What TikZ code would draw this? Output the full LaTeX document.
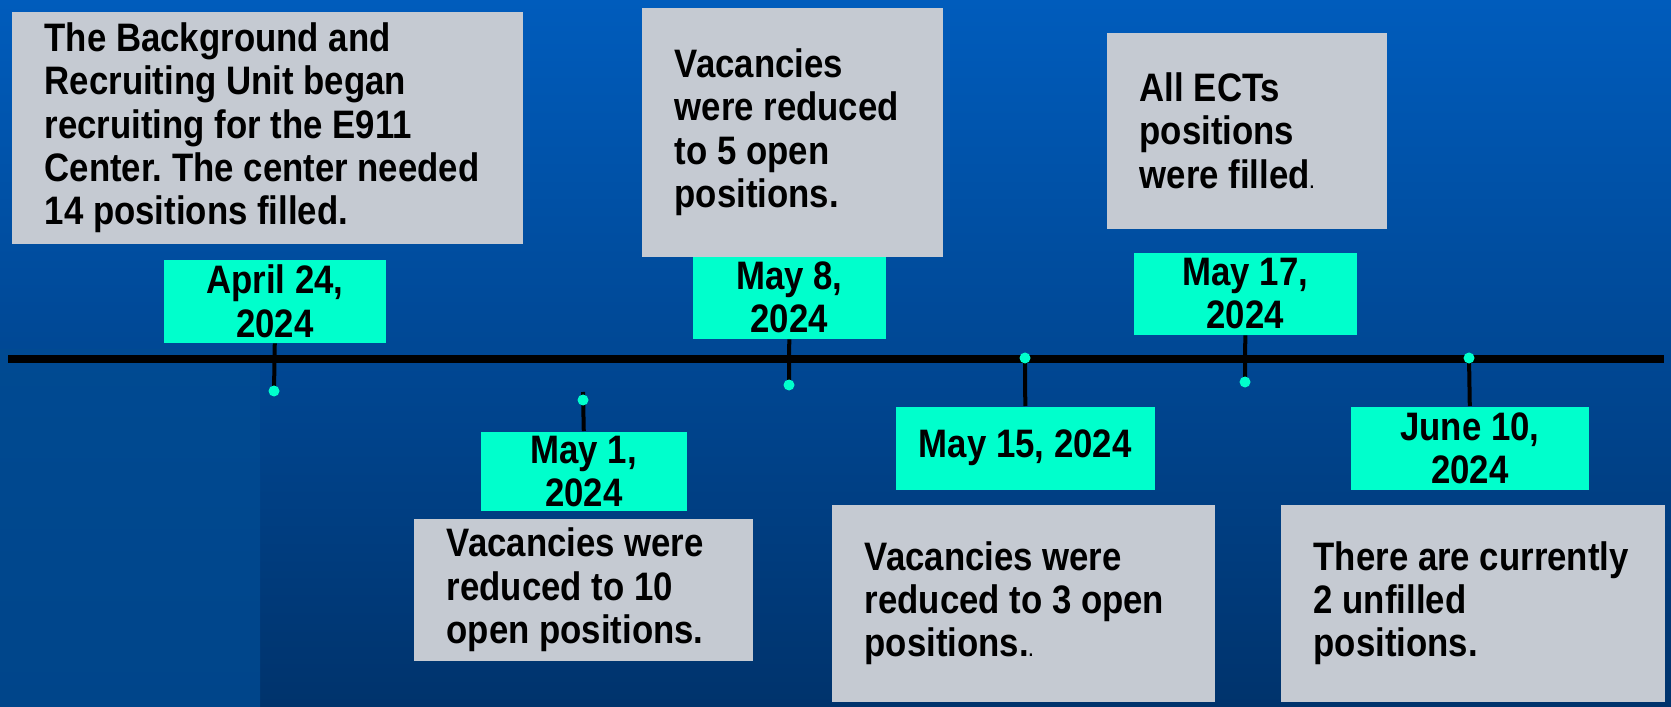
\documentclass[tikz,border=0pt]{standalone}
\usepackage{fontspec}
\usetikzlibrary{positioning}

\newfontfamily\tlfont[FakeStretch=0.875]{Liberation Sans}
\newcommand\tlsize{\fontsize{11.3}{12.3}\selectfont}
\frenchspacing

\definecolor{bgtop}{HTML}{005CBC}
\definecolor{bgmid}{HTML}{004A92}
\definecolor{bgbot}{HTML}{00336C}
\definecolor{stripbot}{HTML}{00458A}
\definecolor{notegray}{HTML}{C5CAD2}
\definecolor{mint}{HTML}{00FFCC}

\begin{document}
\begin{tikzpicture}[x=0.01cm,y=-0.01cm,
		notebox/.style={fill=notegray,inner sep=0pt,anchor=north west},
		notetext/.style={inner sep=0pt,align=left,font=\tlfont\bfseries\tlsize},
		datebox/.style={fill=mint,inner sep=0pt,anchor=north west,align=center,font=\tlfont\bfseries\tlsize},
		tick/.style={line width=0.04cm}]
	\useasboundingbox (0,0) rectangle (1671,707);
	% background
	\shade[top color=bgtop,middle color=bgmid,bottom color=bgbot] (0,0) rectangle (1671,707);
	\shade[top color=bgmid,bottom color=stripbot] (0,350) rectangle (260,707);

	% the time line
	\coordinate (tl-start) at (8,359);
	\coordinate (tl-end) at (1664,359);
	\draw[line width=0.08cm] (tl-start) -- (tl-end);

	% dates
	\node[datebox,minimum width=2.22cm,minimum height=0.83cm] (apr24) at (163,259) {April 24,\\2024};
	\node[datebox,minimum width=1.93cm,minimum height=0.83cm] (may8) at (692,255) {May 8,\\2024};
	\node[datebox,minimum width=2.23cm,minimum height=0.82cm] (may17) at (1133,252) {May 17,\\2024};
	\node[datebox,minimum width=2.06cm,minimum height=0.79cm] (may1) at (480,431) {May 1,\\2024};
	\node[datebox,minimum width=2.59cm,minimum height=0.83cm] (may15) at (895,406) {May 15, 2024};
	\node[datebox,minimum width=2.38cm,minimum height=0.83cm] (jun10) at (1350,406) {June 10,\\2024};

	% ticks and their dots
	\coordinate (p1) at (274,391);
	\coordinate (p2) at (789,385);
	\coordinate (p3) at (1245,382);
	\coordinate (p4) at (583,400);
	\coordinate (p4top) at (583,392);
	\coordinate (p5) at (1025,358);
	\coordinate (p6) at (1469,358);
	\draw[tick] (apr24.south) -- (p1);
	\draw[tick] (may8.south) -- (p2);
	\draw[tick] (may17.south) -- (p3);
	\draw[tick] (p4top) -- (may1.north);
	\draw[tick] (p5) -- (may15.north);
	\draw[tick] (p6) -- (jun10.north);
	\foreach \p in {p1,p2,p3,p4,p5,p6}
		\fill[mint] (\p) circle (0.055cm);

	% notes
	\node[notebox,minimum width=5.11cm,minimum height=2.32cm] (n1) at (11,11) {};
	\node[notetext,right=0.33cm of n1.west] (t1) {The Background and\\Recruiting Unit began\\recruiting for the E911\\Center. The center needed\\14 positions filled.};
	\node[notebox,minimum width=3.01cm,minimum height=2.49cm] (n2) at (641,7) {};
	\node[notetext,right=0.33cm of n2.west] (t2) {Vacancies\\were reduced\\to 5 open\\positions.};
	\node[notebox,minimum width=2.80cm,minimum height=1.96cm] (n3) at (1106,32) {};
	\node[notetext,right=0.33cm of n3.west] (t3) {All ECTs\\positions\\were filled{\fontsize{5}{6}\selectfont.}};
	\node[notebox,minimum width=3.39cm,minimum height=1.42cm] (n4) at (413,518) {};
	\node[notetext,right=0.33cm of n4.west] (t4) {Vacancies were\\reduced to 10\\open positions.};
	\node[notebox,minimum width=3.83cm,minimum height=1.97cm] (n5) at (831,504) {};
	\node[notetext,right=0.33cm of n5.west] (t5) {Vacancies were\\reduced to 3 open\\positions.{\fontsize{5}{6}\selectfont.}};
	\node[notebox,minimum width=3.84cm,minimum height=1.97cm] (n6) at (1280,504) {};
	\node[notetext,right=0.33cm of n6.west] (t6) {There are currently\\2 unfilled\\positions.};
\end{tikzpicture}
\end{document}
